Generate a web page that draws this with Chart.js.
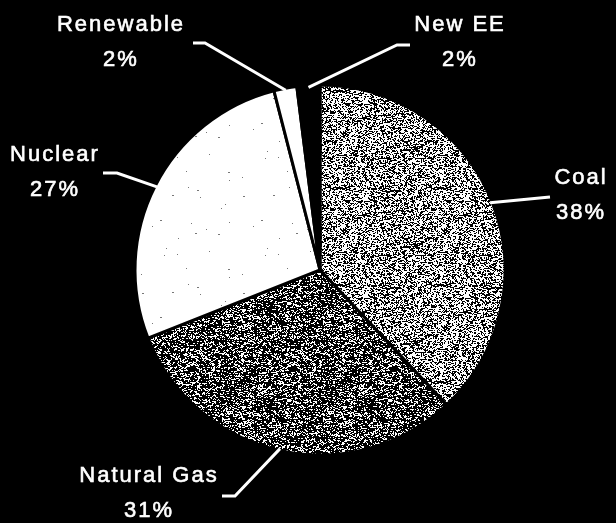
<!DOCTYPE html>
<html>
<head>
<meta charset="utf-8">
<title>Generation mix</title>
<script src="https://cdn.jsdelivr.net/npm/chart.js@4.4.1/dist/chart.umd.min.js"></script>
<style>
  html, body { margin: 0; padding: 0; background: #000; }
  #wrap { width: 616px; height: 523px; position: relative; }
</style>
</head>
<body>
<div id="wrap"><canvas id="mixChart"></canvas></div>
<script>
const categories = ['Coal', 'Natural Gas', 'Nuclear', 'Renewable', 'New EE'];
const shares = [38, 31, 27, 2, 2];
const shareLabels = ['38%', '31%', '27%', '2%', '2%'];

// callout layout: leader elbow, leader end, centre of the name text
const callouts = [
    { elbow: [550, 197], end: [550, 197], text: [581, 178] },
    { elbow: [235, 496], end: [222, 496], text: [149, 476] },
    { elbow: [117, 173], end: [103, 173], text: [55, 155] },
    { elbow: [205, 43], end: [193, 43], text: [121, 25] },
    { elbow: [397, 45], end: [410, 45], text: [460, 25] }
];

// speckled fills like the photocopied original
function grain(base, dot, density, seed) {
    const c = document.createElement('canvas');
    c.width = 101;
    c.height = 97;
    const g = c.getContext('2d');
    g.fillStyle = base;
    g.fillRect(0, 0, c.width, c.height);
    g.fillStyle = dot;
    let s = seed;
    const rnd = () => { s = (s * 16807) % 2147483647; return s / 2147483647; };
    for (let y = 0; y < c.height; y++) {
        for (let x = 0; x < c.width; x++) {
            if (rnd() < density) g.fillRect(x, y, rnd() < 0.3 ? 2 : 1, 1);
        }
    }
    return g.createPattern(c, 'repeat');
}

const fills = [
    grain('#000', '#fff', 0.5, 12345),
    grain('#000', '#fff', 0.27, 67890),
    grain('#fff', '#777', 0.0015, 4242),
    '#ffffff',
    '#000000'
];

const calloutPlugin = {
    id: 'callouts',
    afterDraw(chart) {
        const ctx = chart.ctx;
        const arcs = chart.getDatasetMeta(0).data;
        ctx.save();
        ctx.strokeStyle = '#fff';
        ctx.fillStyle = '#fff';
        ctx.lineWidth = 3;
        ctx.font = '22px "Liberation Sans", Arial, sans-serif';
        ctx.letterSpacing = '2px';
        ctx.textAlign = 'center';
        ctx.textBaseline = 'middle';
        arcs.forEach((arc, i) => {
            const c = callouts[i];
            const mid = (arc.startAngle + arc.endAngle) / 2;
            const ax = arc.x + Math.cos(mid) * (arc.outerRadius - 2);
            const ay = arc.y + Math.sin(mid) * (arc.outerRadius - 2);
            ctx.lineWidth = 3;
            ctx.beginPath();
            ctx.moveTo(ax, ay);
            ctx.lineTo(c.elbow[0], c.elbow[1]);
            ctx.lineTo(c.end[0], c.end[1]);
            ctx.stroke();
            // thin stroke to thicken the glyphs a little
            ctx.lineWidth = 0.6;
            ctx.fillText(categories[i], c.text[0], c.text[1]);
            ctx.strokeText(categories[i], c.text[0], c.text[1]);
            ctx.fillText(shareLabels[i], c.text[0], c.text[1] + 35);
            ctx.strokeText(shareLabels[i], c.text[0], c.text[1] + 35);
        });
        ctx.restore();
    }
};

new Chart(document.getElementById('mixChart'), {
    type: 'pie',
    data: {
        labels: categories,
        datasets: [{
            data: shares,
            backgroundColor: fills,
            borderColor: '#000',
            borderWidth: 3
        }]
    },
    options: {
        responsive: true,
        maintainAspectRatio: false,
        animation: false,
        events: [],
        radius: 185,
        layout: { padding: { left: 137, right: 113, top: 87, bottom: 70 } },
        plugins: {
            legend: { display: false },
            tooltip: { enabled: false }
        }
    },
    plugins: [calloutPlugin]
});
</script>
</body>
</html>
